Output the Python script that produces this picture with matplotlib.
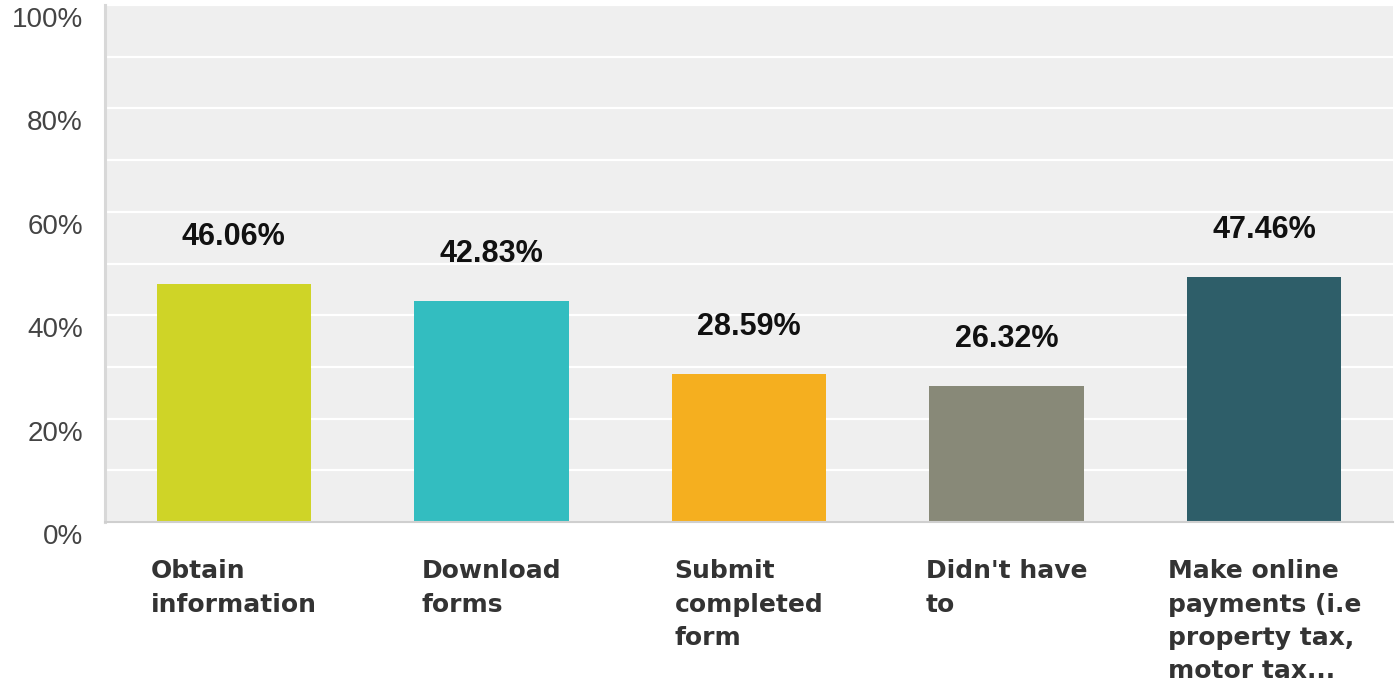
import matplotlib
matplotlib.use('Agg')
import matplotlib.pyplot as plt
import matplotlib.transforms as mtransforms
import numpy as np

# data
categories = ['Obtain\ninformation', 'Download\nforms', 'Submit\ncompleted\nform',
              "Didn't have\nto", 'Make online\npayments (i.e\nproperty tax,\nmotor tax...']
values = [46.06, 42.83, 28.59, 26.32, 47.46]
colors = ['#CFD427', '#33BDC0', '#F5AF1F', '#888978', '#2E5E69']
ytick_vals = [0, 20, 40, 60, 80, 100]
ytick_labels = ['0%', '20%', '40%', '60%', '80%', '100%']

fig = plt.figure(figsize=(13.98, 6.84), dpi=100)
ax = fig.add_axes([105 / 1398, 1 - 522 / 684, (1393 - 105) / 1398, 517 / 684])
ax.set_facecolor('#EFEFEF')

x = np.arange(len(values))
ax.bar(x, values, width=0.6, color=colors, zorder=3)

ax.set_xlim(-0.5, len(values) - 0.5)
ax.set_ylim(0, 100)

# gridlines (every 10%), labels every 20%
ax.set_yticks(np.arange(10, 100, 10), minor=True)
ax.set_yticks(ytick_vals)
ax.set_yticklabels(ytick_labels, fontsize=20, color='#444444', family='Liberation Sans')
ax.grid(axis='y', which='both', color='white', linewidth=1.6, zorder=1)
ax.tick_params(axis='y', which='both', length=0, pad=16)
ax.set_xticks([])

# shift y labels down a bit like the original
off = mtransforms.ScaledTranslation(0, -12 / 100, fig.dpi_scale_trans)
for lab in ax.get_yticklabels():
    lab.set_transform(lab.get_transform() + off)

for s in ['top', 'right']:
    ax.spines[s].set_visible(False)
ax.spines['left'].set_color('#D8D8D8')
ax.spines['left'].set_linewidth(2.2)
ax.spines['bottom'].set_color('#CFCFCF')
ax.spines['bottom'].set_linewidth(1.5)
ax.spines['left'].set_zorder(4)
ax.spines['bottom'].set_zorder(4)

# value labels
for xi, v in zip(x, values):
    ax.annotate(f'{v:.2f}%', xy=(xi, v), xytext=(0, 28), textcoords='offset points',
                ha='center', va='baseline', fontsize=22, fontweight='bold',
                family='Liberation Sans', color='#111111')

# category labels
for xi, c in zip(x, categories):
    ax.annotate(c, xy=(xi, 0), xycoords=('data', 'axes fraction'), xytext=(0, -27),
                textcoords='offset points', ha='center', va='top', multialignment='left',
                fontsize=18, fontweight='bold', family='DejaVu Sans', color='#333333',
                linespacing=1.48, annotation_clip=False)

fig.savefig('out.png', dpi=100, facecolor='white')
